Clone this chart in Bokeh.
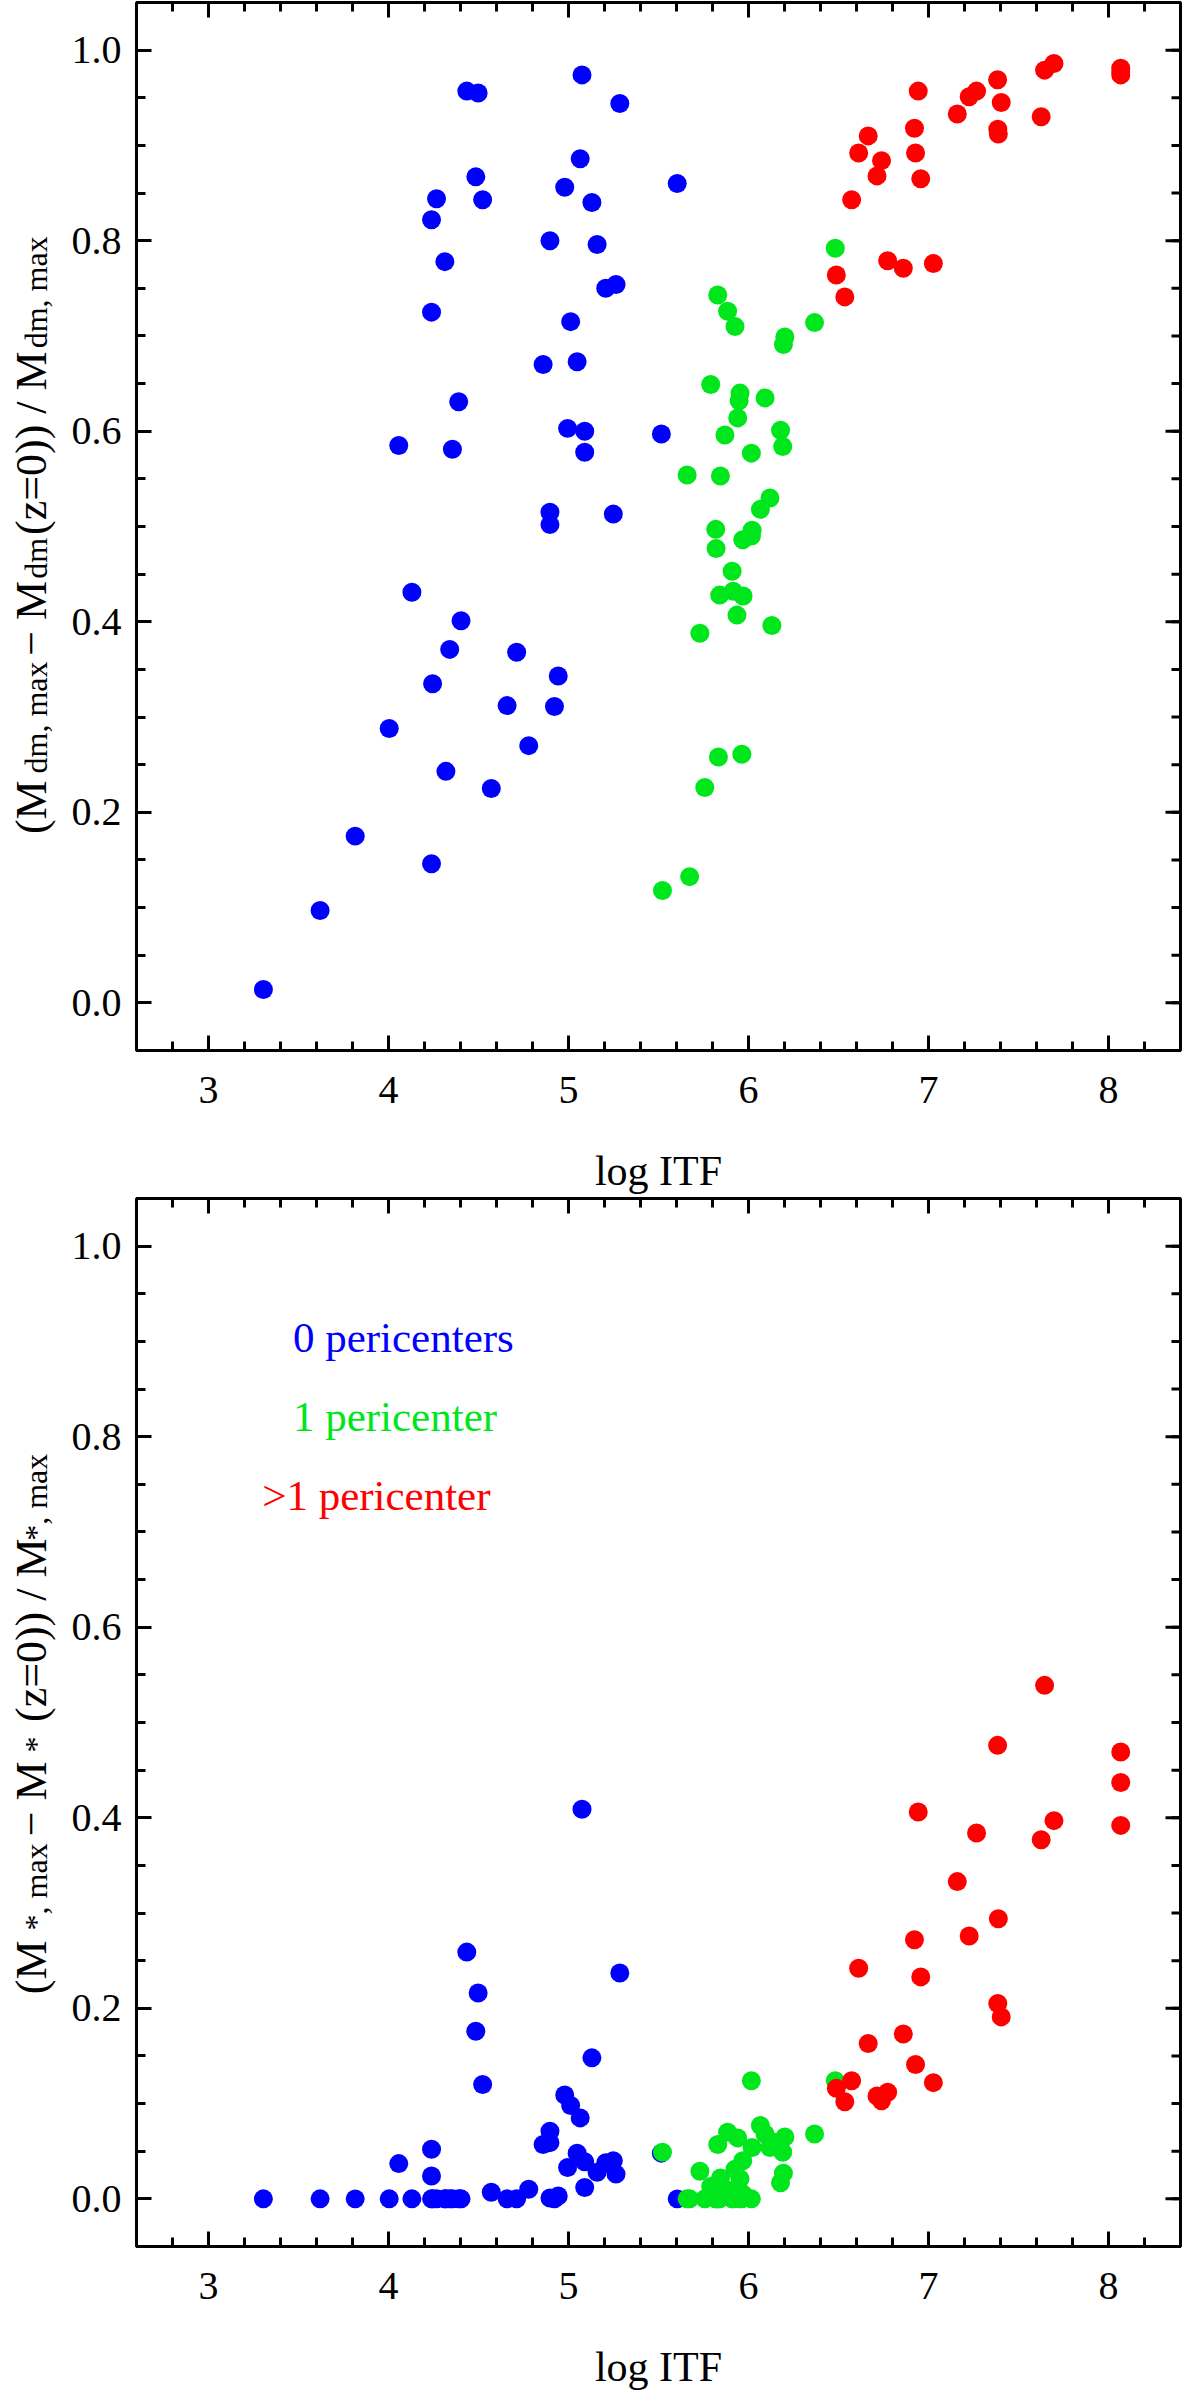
import math
from bokeh.plotting import figure
from bokeh.models import Range1d, FixedTicker, PrintfTickFormatter
from bokeh.layouts import column, row
from bokeh.core.properties import value
from bokeh.embed import file_html
from bokeh.resources import INLINE

FONT = "Liberation Serif"

# ---------------- data ----------------
# 0 pericenters
blue_x = [3.305, 3.62, 3.815, 4.004, 4.057, 4.13, 4.239, 4.239, 4.239, 4.245,
          4.267, 4.313, 4.319, 4.340, 4.355, 4.390, 4.403, 4.435, 4.485, 4.498,
          4.523, 4.571, 4.659, 4.712, 4.779, 4.859, 4.897, 4.897, 4.897, 4.922,
          4.943, 4.979, 4.995, 5.012, 5.048, 5.065, 5.075, 5.09, 5.09, 5.13,
          5.159, 5.207, 5.249, 5.264, 5.285, 5.516, 5.604]
blue_dm = [0.014, 0.097, 0.175, 0.288, 0.585, 0.431, 0.822, 0.725, 0.146, 0.335,
           0.844, 0.778, 0.243, 0.371, 0.581, 0.631, 0.401, 0.957, 0.867, 0.955,
           0.843, 0.225, 0.312, 0.368, 0.270, 0.670, 0.800, 0.515, 0.502, 0.311,
           0.343, 0.856, 0.603, 0.715, 0.673, 0.886, 0.974, 0.600, 0.578, 0.840,
           0.796, 0.750, 0.513, 0.754, 0.944, 0.597, 0.860]
blue_star = [0.0, 0.0, 0.0, 0.0, 0.037, 0.0, 0.052, 0.024, 0.0, 0.0,
             0.0, 0.0, 0.0, 0.0, 0.0, 0.0, 0.0, 0.259, 0.176, 0.216,
             0.120, 0.007, 0.0, 0.0, 0.010, 0.057, 0.071, 0.059, 0.001, 0.0,
             0.003, 0.109, 0.033, 0.098, 0.048, 0.085, 0.409, 0.039, 0.012, 0.148,
             0.028, 0.038, 0.040, 0.026, 0.237, 0.048, 0.0]

# 1 pericenter
green_x = [5.522, 5.659, 5.673, 5.73, 5.757, 5.79, 5.818, 5.82, 5.829, 5.833,
           5.84, 5.844, 5.869, 5.884, 5.909, 5.915, 5.925, 5.936, 5.940, 5.948,
           5.953, 5.963, 5.968, 5.97, 6.016, 6.016, 6.02, 6.066, 6.092, 6.119,
           6.13, 6.178, 6.19, 6.194, 6.202, 6.367, 6.482]
green_dm = [0.118, 0.554, 0.1325, 0.388, 0.226, 0.649, 0.497, 0.477, 0.743, 0.258,
            0.428, 0.553, 0.596, 0.726, 0.453, 0.432, 0.710, 0.407, 0.614, 0.632,
            0.640, 0.261, 0.486, 0.427, 0.577, 0.490, 0.496, 0.518, 0.635, 0.530,
            0.396, 0.601, 0.584, 0.691, 0.699, 0.714, 0.792]
green_star = [0.049, 0.0, 0.0, 0.029, 0.0, 0.013, 0.0, 0.0, 0.057, 0.0,
              0.0, 0.022, 0.010, 0.070, 0.0, 0.0, 0.031, 0.011, 0.064, 0.0,
              0.021, 0.0, 0.040, 0.005, 0.124, 0.0, 0.054, 0.077, 0.068, 0.054,
              0.060, 0.017, 0.049, 0.027, 0.065, 0.068, 0.124]

# >1 pericenter
red_x = [6.488, 6.535, 6.573, 6.612, 6.665, 6.714, 6.739, 6.773, 6.860, 6.922,
         6.928, 6.943, 6.957, 7.027, 7.160, 7.226, 7.267, 7.384, 7.385, 7.388,
         7.404, 7.626, 7.645, 7.697, 8.068, 8.068, 8.068]
red_dm = [0.764, 0.741, 0.843, 0.892, 0.910, 0.868, 0.884, 0.779, 0.771, 0.918,
          0.892, 0.957, 0.865, 0.776, 0.933, 0.951, 0.957, 0.969, 0.917, 0.912,
          0.945, 0.930, 0.979, 0.986, 0.981, 0.977, 0.974]
red_star = [0.116, 0.102, 0.124, 0.242, 0.163, 0.108, 0.103, 0.112, 0.173, 0.272,
            0.141, 0.406, 0.233, 0.122, 0.333, 0.276, 0.384, 0.476, 0.205, 0.294,
            0.191, 0.377, 0.539, 0.397, 0.469, 0.437, 0.392]

x_major = [3, 4, 5, 6, 7, 8]
y_major = [0.0, 0.2, 0.4, 0.6, 0.8, 1.0]
x_label = "log ITF"
legend_texts = ["0 pericenters", "1 pericenter", ">1 pericenter"]

# y-axis label pieces: (text, start along the axis, is subscript)
top_label = [("(M", 0.1772, False), ("dm, max", 0.2408, True), ("\u2212 M", 0.3644, False),
             ("dm", 0.4452, True), ("(z=0)) / M", 0.4911, False), ("dm, max", 0.687, True)]
bot_label = [("(M", 0.2148, False), ("*, max", 0.2818, True), ("\u2212 M", 0.3806, False),
             ("*", 0.4686, True), ("(z=0)) / M", 0.5005, False), ("*, max", 0.6907, True)]

BLUE = "#0000FF"
GREEN = "#00E61C"
RED = "#FF0000"

X0, X1 = 2.6, 8.4
Y0, Y1 = -0.05, 1.05
FW, FH = 1044, 1048          # frame size in px
LABEL_W = 60                 # width of the strip holding the rotated y label
x_minor = [round(2.6 + 0.2 * i, 2) for i in range(30)]
y_minor = [round(-0.05 + 0.05 * i, 3) for i in range(23)]


def style_axis(ax, ticks, minor, fmt):
    ax.ticker = FixedTicker(ticks=ticks, minor_ticks=minor)
    ax.formatter = PrintfTickFormatter(format=fmt)
    ax.axis_line_color = "black"
    ax.axis_line_width = 3
    ax.major_tick_in = 15
    ax.major_tick_out = 0
    ax.minor_tick_in = 9
    ax.minor_tick_out = 0
    ax.major_tick_line_width = 3
    ax.minor_tick_line_width = 3
    ax.major_tick_line_color = "black"
    ax.minor_tick_line_color = "black"
    ax.major_label_text_font = FONT
    ax.major_label_text_color = "black"
    ax.major_label_text_font_size = "40px"
    ax.major_label_standoff = 15


def make_panel(bx, by, gx, gy, rx, ry, label_pieces, border_bottom, legend=False):
    yr = Range1d(Y0, Y1)
    p = figure(frame_width=FW, frame_height=FH,
               x_range=Range1d(X0, X1), y_range=yr,
               output_backend="svg", toolbar_location=None,
               min_border_left=136 - LABEL_W, min_border_right=4, min_border_top=2,
               min_border_bottom=border_bottom)
    p.grid.visible = False
    p.background_fill_color = "white"
    p.border_fill_color = "white"
    p.outline_line_color = "black"
    p.outline_line_width = 3

    xa = p.xaxis[0]
    ya = p.yaxis[0]
    style_axis(xa, x_major, x_minor, "%d")
    style_axis(ya, y_major, y_minor, "%.1f")
    xa.major_label_standoff = 26
    xa.axis_label = x_label
    xa.axis_label_text_font = FONT
    xa.axis_label_text_font_size = "42px"
    xa.axis_label_text_font_style = "normal"
    xa.axis_label_text_color = "black"
    xa.axis_label_standoff = 42

    # mirrored inward ticks on the top and right frame edges
    ppx = FW / (X1 - X0)
    ppy = FH / (Y1 - Y0)
    for ticks, length in ((x_major, 15), (x_minor, 9)):
        p.segment(x0=ticks, y0=[Y1] * len(ticks), x1=ticks,
                  y1=[Y1 - length / ppy] * len(ticks),
                  line_color="black", line_width=3)
    for ticks, length in ((y_major, 15), (y_minor, 9)):
        p.segment(x0=[X1] * len(ticks), y0=ticks, x1=[X1 - length / ppx] * len(ticks),
                  y1=ticks, line_color="black", line_width=3)

    p.scatter(bx, by, size=19, fill_color=BLUE, line_color=None)
    p.scatter(gx, gy, size=19, fill_color=GREEN, line_color=None)
    p.scatter(rx, ry, size=19, fill_color=RED, line_color=None)

    if legend:
        p.text(x=[3.469, 3.469, 3.298], y=[0.904, 0.8214, 0.738], text=legend_texts,
               text_color=[BLUE, GREEN, RED], text_font=value(FONT),
               text_font_size=value("43px"), text_align="left",
               text_baseline="alphabetic")

    # strip on the left carrying the rotated, subscripted y-axis label
    lab = figure(frame_width=LABEL_W, frame_height=FH, x_range=Range1d(0, LABEL_W),
                 y_range=yr, output_backend="svg", toolbar_location=None,
                 min_border_left=0, min_border_right=0, min_border_top=2,
                 min_border_bottom=0)
    lab.axis.visible = False
    lab.grid.visible = False
    lab.outline_line_color = None
    lab.background_fill_color = "white"
    lab.border_fill_color = "white"
    main = [(t, y) for t, y, s in label_pieces if not s]
    subs = [(t, y) for t, y, s in label_pieces if s]
    lab.text(x=[31] * len(main), y=[y for _, y in main], text=[t for t, _ in main],
             angle=math.pi / 2, text_font=value(FONT), text_font_size=value("44px"),
             text_align="left", text_baseline="alphabetic", text_color="black")
    lab.text(x=[35] * len(subs), y=[y for _, y in subs], text=[t for t, _ in subs],
             angle=math.pi / 2, text_font=value(FONT), text_font_size=value("32px"),
             text_align="left", text_baseline="alphabetic", text_color="black")
    return row(lab, p, spacing=0)


r1 = make_panel(blue_x, blue_dm, green_x, green_dm, red_x, red_dm, top_label, 145)
r2 = make_panel(blue_x, blue_star, green_x, green_star, red_x, red_star, bot_label, 137,
                legend=True)

layout = column(r1, r2, spacing=0)
open("out.html", "w").write(file_html(layout, INLINE))
